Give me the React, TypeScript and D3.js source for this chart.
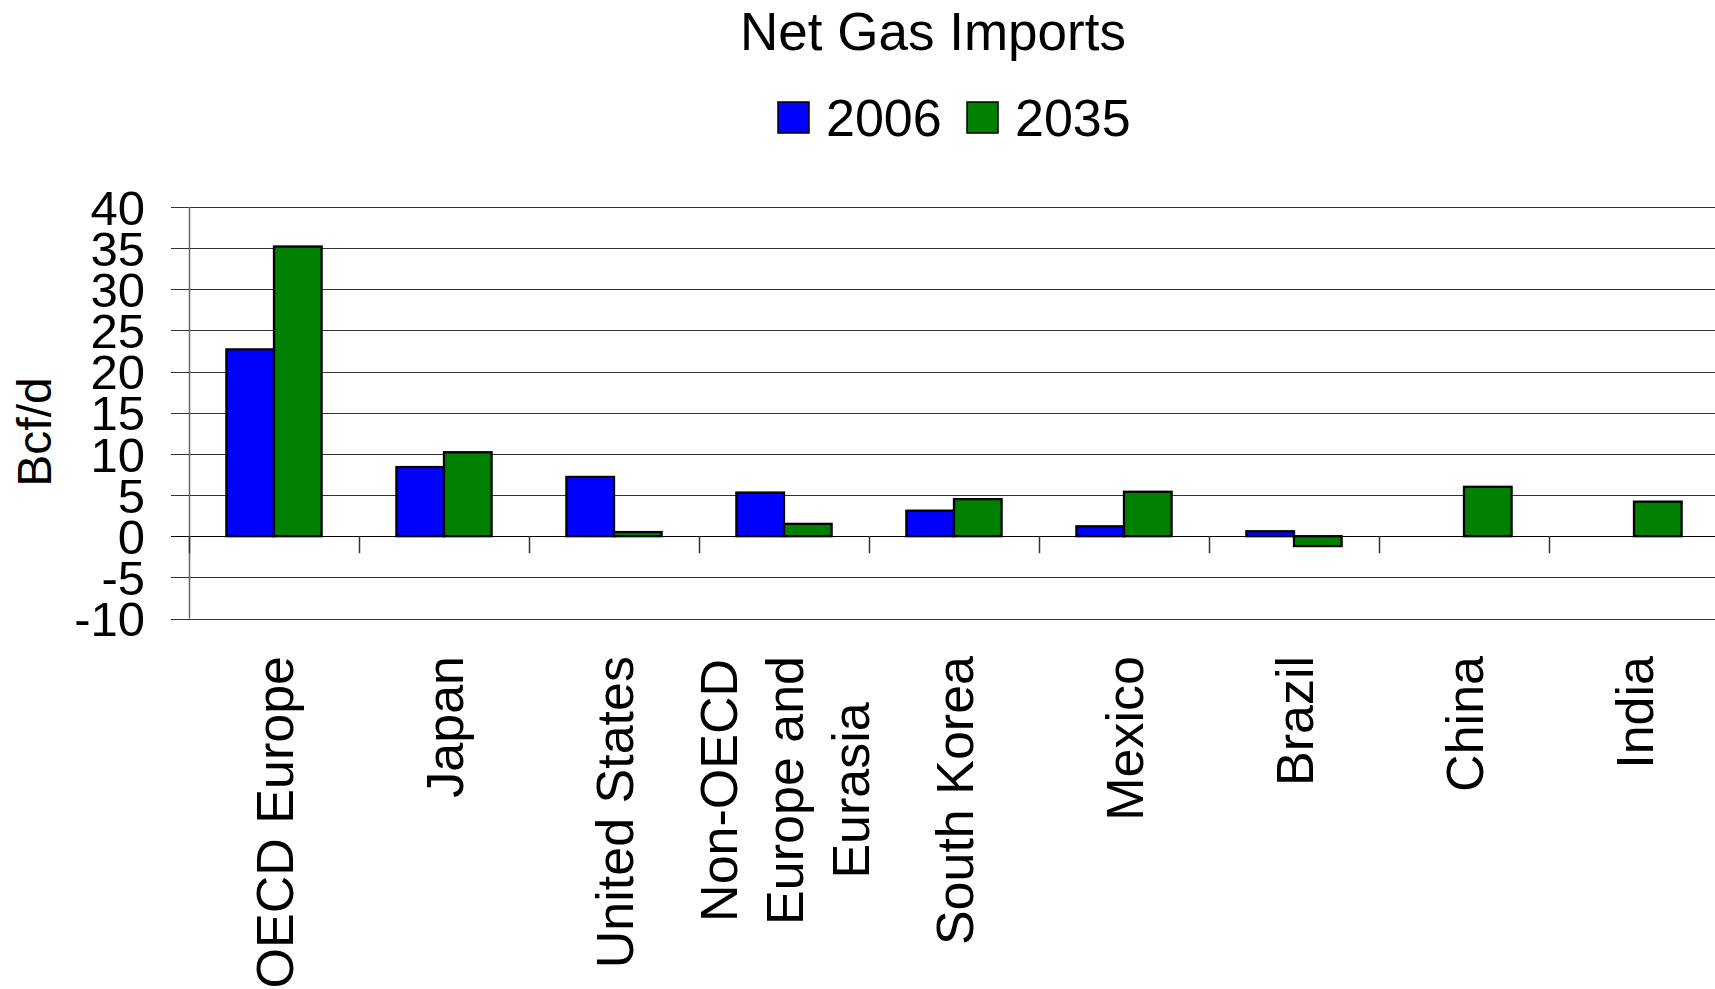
import React, { useEffect, useRef } from "react";
import * as d3 from "d3";

const categories: string[] = [
  "OECD Europe",
  "Japan",
  "United States",
  "Non-OECD\nEurope and\nEurasia",
  "South Korea",
  "Mexico",
  "Brazil",
  "China",
  "India",
];
const series2006: (number | null)[] = [22.7, 8.4, 7.2, 5.3, 3.1, 1.2, 0.6, null, null];
const series2035: (number | null)[] = [35.2, 10.2, 0.5, 1.5, 4.5, 5.4, -1.2, 6.0, 4.2];
const seriesNames: string[] = ["2006", "2035"];
const seriesColors: string[] = ["#0000FF", "#008000"];
const yTicks: number[] = [-10, -5, 0, 5, 10, 15, 20, 25, 30, 35, 40];

const W = 1715;
const H = 989;
const FONT = "'Liberation Sans', Arial, Helvetica, sans-serif";

export default function App() {
  const ref = useRef<SVGSVGElement | null>(null);

  useEffect(() => {
    const svg = d3.select(ref.current);
    svg.selectAll("*").remove();

    const left = 189;
    const right = 1719;
    const top = 207;
    const bottom = 618.5;

    const x = d3.scaleBand<string>().domain(categories).range([left, right]).paddingInner(0).paddingOuter(0);
    const y = d3.scaleLinear().domain([-10, 40]).range([bottom, top]);
    const bw = x.bandwidth();

    // Title
    svg.append("text")
      .attr("x", 933).attr("y", 50)
      .attr("text-anchor", "middle")
      .attr("font-family", FONT).attr("font-size", 53)
      .text("Net Gas Imports");

    // Legend
    const legendX = [778, 967];
    seriesNames.forEach((name, i) => {
      svg.append("rect")
        .attr("x", legendX[i]).attr("y", 102)
        .attr("width", 31).attr("height", 31)
        .attr("fill", seriesColors[i]).attr("stroke", "#000").attr("stroke-width", 1.5);
      svg.append("text")
        .attr("x", legendX[i] + 48).attr("y", 136)
        .attr("font-family", FONT).attr("font-size", 52)
        .text(name);
    });

    // Gridlines
    yTicks.forEach((t) => {
      svg.append("line")
        .attr("x1", 171).attr("x2", W)
        .attr("y1", Math.round(y(t)) + 0.5).attr("y2", Math.round(y(t)) + 0.5)
        .attr("stroke", t === 0 ? "#000" : "#333").attr("stroke-width", 1.2);
    });

    // Y axis line
    svg.append("line")
      .attr("x1", left + 0.5).attr("x2", left + 0.5)
      .attr("y1", y(40)).attr("y2", y(-10))
      .attr("stroke", "#666").attr("stroke-width", 1.5);

    // Y tick labels
    yTicks.forEach((t) => {
      svg.append("text")
        .attr("x", 145).attr("y", y(t))
        .attr("dy", "0.36em")
        .attr("text-anchor", "end")
        .attr("font-family", FONT).attr("font-size", 49)
        .text(String(t));
    });

    // Y axis title
    svg.append("text")
      .attr("transform", `translate(34,432) rotate(-90)`)
      .attr("text-anchor", "middle")
      .attr("dy", "0.36em")
      .attr("font-family", FONT).attr("font-size", 48)
      .text("Bcf/d");

    // Category ticks
    const boundaries = categories.map((c) => x(c) as number);
    boundaries.forEach((bx) => {
      svg.append("line")
        .attr("x1", bx + 0.5).attr("x2", bx + 0.5)
        .attr("y1", y(0)).attr("y2", y(0) + 17)
        .attr("stroke", "#333").attr("stroke-width", 1.5);
    });

    // Bars
    const barW = bw * 0.28;
    const all = [series2006, series2035];
    all.forEach((vals, si) => {
      categories.forEach((c, i) => {
        const v = vals[i];
        if (v === null || v === undefined) return;
        const bx = (x(c) as number) + bw * 0.22 + si * barW;
        const y0 = y(0);
        const y1 = y(v);
        svg.append("rect")
          .attr("x", bx).attr("y", Math.min(y0, y1))
          .attr("width", barW).attr("height", Math.abs(y1 - y0))
          .attr("fill", seriesColors[si])
          .attr("stroke", "#000").attr("stroke-width", 2.3);
      });
    });

    // X labels
    const labelTop = 656;
    categories.forEach((c) => {
      const lines = c.split("\n");
      const cx = (x(c) as number) + bw / 2;
      const lh = 66;
      const g = svg.append("g");
      const texts = lines.map((ln) =>
        g.append("text")
          .attr("font-family", FONT).attr("font-size", 52)
          .attr("dy", "0.36em")
          .text(ln)
      );
      const lens = texts.map((t) => (t.node() as SVGTextElement).getComputedTextLength());
      const maxL = Math.max(...lens);
      texts.forEach((t, li) => {
        const off = (li - (lines.length - 1) / 2) * lh;
        if (lines.length === 1) {
          t.attr("text-anchor", "end")
            .attr("transform", `translate(${cx},${labelTop}) rotate(-90)`);
        } else {
          t.attr("text-anchor", "middle")
            .attr("transform", `translate(${cx + off},${labelTop + maxL / 2}) rotate(-90)`);
        }
      });
    });
  }, []);

  return (
    <svg
      ref={ref}
      width={W}
      height={H}
      style={{ position: "absolute", left: 0, top: 0, background: "#fff" }}
    />
  );
}
